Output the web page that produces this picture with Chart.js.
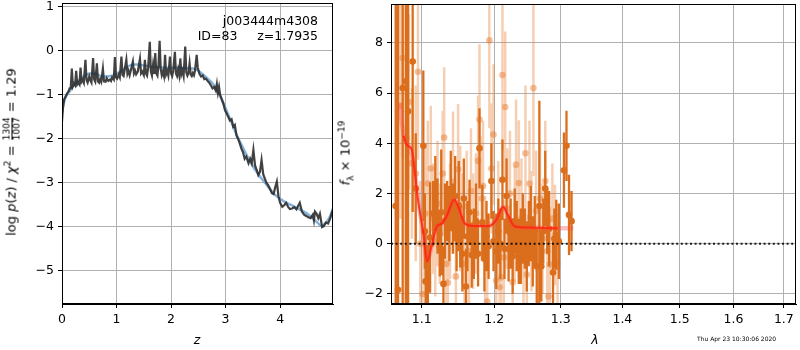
<!DOCTYPE html>
<html>
<head>
<meta charset="utf-8">
<script src="https://cdn.jsdelivr.net/npm/chart.js@4.4.1/dist/chart.umd.min.js"></script>
<style>
  body { margin: 0; background: #fff; }
  #wrap { position: relative; width: 800px; height: 350px; font-family: 'DejaVu Sans', sans-serif; color: #000; }
  canvas { position: absolute; top: 0; }
  .lbl { position: absolute; white-space: pre; font-size: 12.5px; line-height: 1; font-weight: normal; }
  .rot { transform: translate(-50%, -50%) rotate(-90deg); font-size: 13px; }
  .frac { display: inline-flex; flex-direction: column; vertical-align: middle; font-size: 9px; line-height: 1; text-align: center; margin: 0 1px; }
  .frac span + span { border-top: 1px solid #000; }
  sup, sub { font-size: 70%; line-height: 0; }
</style>
</head>
<body>
<div id="wrap">
  <canvas id="pzChart" width="340" height="350" style="left:0"></canvas>
  <canvas id="specChart" width="460" height="350" style="left:340px"></canvas>

  <div class="lbl rot" style="left:12px; top:152px;">log <i>p</i>(<i>z</i>) / <i>χ</i><sup>2</sup> = <span class="frac"><span>1304</span><span>1007</span></span> = 1.29</div>
  <div class="lbl rot" style="left:345px; top:153px;"><i>f</i><sub>λ</sub> × 10<sup>−19</sup></div>
  <div class="lbl" style="right:482px; top:13px; text-align:right; line-height:15px;">j003444m4308
ID=83     z=1.7935</div>
  <div class="lbl" style="left:197px; top:340px; transform:translate(-50%,-50%);"><i>z</i></div>
  <div class="lbl" style="left:595px; top:340px; transform:translate(-50%,-50%);"><i>λ</i></div>
  <div class="lbl" style="left:697px; top:336px; font-size:6px;">Thu Apr 23 10:30:06 2020</div>
</div>

<script>
// p(z) panel
const zGrid = [
  0.00,0.02,0.04,0.06,0.08,0.10,0.12,0.14,0.16,0.18,
  0.20,0.22,0.24,0.26,0.28,0.30,0.32,0.34,0.36,0.38,
  0.40,0.43,0.45,0.47,0.50,0.52,0.54,0.57,0.59,0.61,
  0.64,0.66,0.68,0.70,0.72,0.75,0.77,0.80,0.82,0.85,
  0.88,0.90,0.92,0.95,0.97,0.99,1.01,1.04,1.06,1.09,
  1.11,1.13,1.15,1.18,1.20,1.22,1.24,1.27,1.30,1.32,
  1.34,1.36,1.39,1.41,1.43,1.45,1.47,1.50,1.52,1.54,
  1.56,1.58,1.61,1.63,1.65,1.67,1.69,1.71,1.73,1.75,
  1.77,1.79,1.81,1.83,1.85,1.87,1.89,1.91,1.93,1.95,
  1.98,2.00,2.02,2.04,2.07,2.09,2.11,2.13,2.15,2.17,
  2.19,2.21,2.23,2.26,2.28,2.30,2.32,2.34,2.36,2.38,
  2.40,2.42,2.44,2.47,2.49,2.52,2.55,2.58,2.61,2.64,
  2.67,2.70,2.73,2.76,2.79,2.82,2.84,2.86,2.88,2.90,
  2.93,2.96,2.99,3.02,3.05,3.08,3.11,3.14,3.17,3.20,
  3.23,3.26,3.29,3.32,3.35,3.38,3.42,3.45,3.48,3.51,
  3.54,3.57,3.60,3.63,3.66,3.69,3.72,3.75,3.78,3.82,
  3.85,3.88,3.91,3.94,3.97,4.00,4.04,4.08,4.11,4.15,
  4.18,4.22,4.26,4.30,4.33,4.36,4.40,4.44,4.48,4.52,
  4.56,4.60,4.62,4.64,4.67,4.70,4.73,4.77,4.80,4.84,
  4.88,4.92,4.97
];
const logPz = [
  -1.60,-1.25,-1.10,-1.05,-1.00,-0.95,-0.92,-0.85,-0.85,-0.40,
  -0.80,-0.74,-0.78,-0.45,-0.76,-0.72,-0.76,-0.38,-0.70,-0.66,
  -0.72,-0.20,-0.66,-0.72,-0.58,-0.67,-0.72,-0.16,-0.65,-0.70,
  -0.28,-0.69,-0.72,-0.64,-0.70,-0.40,-0.69,-0.70,-0.62,-0.68,
  -0.65,-0.68,-0.60,-0.65,-0.14,-0.60,-0.63,-0.54,-0.60,-0.13,
  -0.54,-0.57,-0.42,-0.20,-0.52,-0.45,-0.55,-0.40,-0.24,-0.51,
  -0.45,-0.53,-0.47,-0.32,-0.18,-0.51,-0.47,-0.55,-0.20,-0.51,
  -0.56,-0.38,0.21,-0.47,-0.56,-0.32,-0.52,-0.05,-0.51,-0.56,
  -0.32,0.23,-0.40,-0.55,-0.47,-0.57,-0.09,-0.53,-0.46,-0.56,
  -0.13,-0.51,-0.57,-0.45,-0.02,-0.51,-0.57,-0.42,-0.55,-0.17,
  -0.53,-0.45,-0.57,0.10,-0.49,-0.56,-0.50,-0.28,-0.53,-0.57,
  -0.50,-0.55,-0.44,-0.09,-0.38,-0.52,-0.58,-0.56,-0.64,-0.63,
  -0.68,-0.72,-0.78,-0.85,-0.82,-0.90,-0.75,-0.95,-0.82,-1.00,
  -1.10,-1.20,-1.35,-1.42,-1.50,-1.58,-1.55,-1.72,-1.68,-1.92,
  -2.00,-2.10,-2.22,-2.30,-2.45,-2.40,-2.55,-2.45,-2.55,-2.25,
  -2.60,-2.70,-2.82,-2.75,-2.48,-2.80,-2.90,-3.00,-3.05,-3.15,
  -3.23,-3.25,-3.10,-2.97,-3.30,-3.45,-3.54,-3.50,-3.45,-3.55,
  -3.59,-3.58,-3.55,-3.60,-3.52,-3.45,-3.65,-3.72,-3.75,-3.78,
  -3.80,-3.72,-3.85,-3.65,-3.70,-3.80,-3.70,-4.00,-3.98,-3.90,
  -3.92,-3.80,-3.60
];
const zSmooth = [0.00,0.05,0.10,0.15,0.20,0.30,0.40,0.50,0.60,0.70,0.80,0.90,1.00,1.10,1.20,1.30,1.40,1.50,1.60,1.80,
  2.00,2.20,2.30,2.40,2.50,2.60,2.70,2.80,2.90,3.00,3.10,3.20,3.30,3.40,3.50,3.60,3.70,3.80,3.90,4.00,
  4.10,4.20,4.30,4.40,4.50,4.60,4.70,4.75,4.80,4.90,4.97];
const logPzSmooth = [-1.40,-1.10,-0.98,-0.90,-0.80,-0.68,-0.58,-0.51,-0.52,-0.56,-0.58,-0.57,-0.52,-0.44,-0.36,-0.31,-0.31,-0.33,-0.35,-0.37,
  -0.38,-0.38,-0.39,-0.40,-0.45,-0.55,-0.66,-0.80,-1.02,-1.30,-1.60,-1.90,-2.15,-2.40,-2.62,-2.80,-2.96,-3.12,-3.26,-3.36,
  -3.44,-3.50,-3.56,-3.63,-3.70,-3.80,-3.92,-3.98,-3.95,-3.80,-3.58];
const zTicks = [0, 1, 2, 3, 4];
const pzTicks = [-5, -4, -3, -2, -1, 0, 1];

// spectrum panel (flux in units of 1e-19)
const waveDark = [1.066,1.069,1.075,1.079,1.082,1.088,1.092,1.102,1.104,1.105,
  1.108,1.111,1.115,1.118,1.121,1.124,1.126,1.129,1.131,1.134,
  1.137,1.139,1.142,1.145,1.147,1.150,1.152,1.155,1.157,1.160,
  1.162,1.165,1.168,1.171,1.174,1.177,1.179,1.183,1.186,1.189,
  1.192,1.196,1.199,1.203,1.206,1.209,1.212,1.215,1.218,1.221,
  1.224,1.227,1.230,1.233,1.236,1.239,1.242,1.245,1.248,1.251,
  1.254,1.257,1.260,1.263,1.267,1.270,1.273,1.276,1.279,1.282,
  1.288,1.290,1.293,1.297,1.305,1.309,1.313,1.317];
const fluxDark = [1.5,-1.83,6.2,6.47,5.28,7.26,2.2,3.9,0.5,-1.5,
  -1.55,0.25,1.2,2.0,1.1,-0.1,1.25,-1.6,0.9,1.3,
  0.8,2.1,1.0,1.9,0.2,1.5,0.35,-0.4,1.8,-1.7,
  0.3,1.25,-0.45,0.0,0.9,-0.4,3.8,0.85,-0.6,0.3,
  -0.1,2.5,0.1,-0.3,0.5,0.0,2.55,-0.2,1.9,-0.2,
  0.4,-0.5,0.9,0.3,-0.3,-0.1,0.6,0.2,-0.5,0.4,
  0.8,-0.3,0.5,-0.9,1.5,-0.9,0.5,2.2,0.9,0.6,
  -1.15,0.2,0.35,0.1,2.93,3.9,1.15,0.9];
const errDark = [12,12,12,12,12,6,2.2,3.0,1.5,2.0,
  1.5,2.2,1.3,1.5,1.5,1.2,2.5,1.5,1.5,1.2,
  1.5,1.6,1.4,1.6,1.3,1.8,1.3,1.5,1.6,1.5,
  1.4,1.3,1.3,1.4,1.5,1.3,1.6,1.5,1.3,1.4,
  1.3,1.5,1.2,1.5,1.3,1.4,1.6,1.2,1.5,1.3,
  1.4,1.5,1.3,1.4,1.3,1.5,1.4,1.2,1.4,1.3,
  1.5,1.4,1.4,1.5,4.2,1.4,1.3,1.5,1.3,1.5,
  1.3,1.2,1.4,1.5,1.5,1.4,1.6,1.2];

const waveLight = [1.072,1.075,1.080,1.083,1.087,1.092,1.095,1.098,1.101,1.105,
  1.108,1.112,1.115,1.118,1.121,1.124,1.128,1.130,1.133,1.135,
  1.138,1.142,1.146,1.149,1.152,1.155,1.158,1.161,1.164,1.167,
  1.170,1.174,1.177,1.179,1.182,1.184,1.187,1.190,1.193,1.196,
  1.199,1.203,1.206,1.208,1.210,1.212,1.214,1.216,1.219,1.223,
  1.227,1.230,1.232,1.236,1.240,1.243,1.246,1.248,1.252,1.255,
  1.258,1.262,1.265,1.268,1.272,1.276,1.279,1.281,1.283,1.287,
  1.291,1.295];
const fluxLight = [5.5,7.4,4.2,5.65,3.2,2.8,6.85,0.0,-2.0,1.2,
  2.4,3.0,1.0,0.1,1.6,0.4,2.8,4.23,-0.8,-1.55,
  0.9,2.47,-1.3,2.97,1.4,0.6,-0.8,1.5,-0.3,2.1,
  0.5,1.2,3.3,4.95,1.8,2.3,-0.5,-2.3,8.1,3.0,
  4.35,-1.47,1.0,-1.73,-1.34,6.72,-0.55,5.45,1.4,2.0,
  -1.53,0.8,3.15,2.42,1.0,-0.4,3.6,-1.23,2.4,0.5,
  6.2,1.3,-0.9,1.8,0.2,2.5,-0.3,-2.1,-0.83,1.0,
  0.35,-0.8];
const errLight = [4.5,4.0,3.5,3.5,3.0,3.5,3.5,2.5,3.0,2.8,
  2.5,2.5,2.2,2.2,2.5,2.0,2.5,2.8,2.2,2.5,
  2.3,2.8,2.3,2.6,2.5,2.2,2.4,2.2,2.3,2.5,
  2.3,2.4,2.6,3.0,2.5,2.6,2.4,2.5,3.5,2.6,
  2.8,2.4,2.3,2.5,2.3,3.0,2.3,3.0,2.4,2.5,
  2.4,2.3,2.6,2.5,2.4,2.3,2.7,2.4,2.5,2.4,
  3.5,2.4,2.5,2.3,2.2,2.4,2.3,2.5,2.3,2.2,
  2.0,2.0];

const modelWave = [1.076,1.080,1.084,1.087,1.091,1.095,1.102,1.107,1.113,1.120,1.126,1.133,
  1.144,1.151,1.158,1.170,1.193,1.203,1.213,1.220,1.230,1.252,1.295];
const modelFlux = [4.3,3.95,3.86,3.73,2.8,1.75,0.43,-0.7,-0.1,0.69,0.79,1.08,
  1.75,1.35,0.82,0.71,0.71,0.95,1.46,1.15,0.69,0.65,0.62];
const modelWaveWide = [1.071,1.074,1.078,1.084,1.091,1.095,1.102,1.107,1.113,1.120,1.126,1.133,
  1.144,1.151,1.158,1.170,1.193,1.203,1.213,1.220,1.230,1.252,1.292,1.320];
const modelFluxWide = [5.6,4.8,4.1,3.86,2.8,1.75,0.43,-0.7,-0.1,0.69,0.79,1.08,
  1.75,1.35,0.82,0.71,0.71,0.95,1.46,1.15,0.69,0.65,0.62,0.62];
const waveTicks = [1.1, 1.2, 1.3, 1.4, 1.5, 1.6, 1.7];
const fluxTicks = [-2, 0, 2, 4, 6, 8];

Chart.defaults.font.family = "'DejaVu Sans', sans-serif";
Chart.defaults.font.size = 12.5;
Chart.defaults.color = '#000';

const DARK = 'rgb(219,110,28)';
const LIGHT_BAR = 'rgba(232,130,55,0.38)';
const LIGHT_PT = 'rgba(232,130,55,0.5)';

function pairs(xs, ys) {
  return xs.map((x, i) => ({ x: x, y: ys[i] }));
}

function errorSegments(w, f, e) {
  const pts = [];
  w.forEach((x, i) => {
    pts.push({ x: x, y: f[i] - e[i] }, { x: x, y: f[i] + e[i] }, { x: x, y: null });
  });
  return pts;
}

const minus = v => String(v).replace('-', '\u2212');

const framePlugin = {
  id: 'frame',
  afterDraw(chart) {
    const a = chart.chartArea;
    const ctx = chart.ctx;
    ctx.save();
    ctx.strokeStyle = '#000';
    ctx.lineWidth = 1;
    ctx.strokeRect(a.left + 0.5, a.top + 0.5, a.right - a.left - 1, a.bottom - a.top - 1);
    ctx.restore();
  }
};

// fixed axis box sizes so the plot areas land where the original ones are
function axisStyle(ticks, width, height) {
  return {
    grid: { color: '#b0b0b0', lineWidth: 1, tickColor: '#000', tickLength: 4 },
    border: { color: '#000', width: 1 },
    ticks: { padding: 4, autoSkip: false, maxRotation: 0, callback: v => minus(v) },
    afterBuildTicks: sc => { sc.ticks = ticks.map(v => ({ value: v })); },
    afterFit: sc => {
      if (width) sc.width = width;
      if (height) sc.height = height;
      sc.paddingTop = 0;
      sc.paddingBottom = 0;
      sc.paddingLeft = 0;
      sc.paddingRight = 0;
    }
  };
}

// left panel: p(z)
const pzX = axisStyle(zTicks, null, 46);
const pzY = axisStyle(pzTicks, 62, null);
new Chart(document.getElementById('pzChart'), {
  type: 'line',
  data: {
    datasets: [
      {
        data: pairs(zGrid, logPz),
        borderColor: 'rgba(45,45,45,0.9)',
        borderWidth: 2.2,
        pointRadius: 0,
        order: 0
      },
      {
        data: pairs(zSmooth, logPzSmooth),
        borderColor: 'rgba(110,165,210,0.85)',
        borderWidth: 2.5,
        pointRadius: 0,
        cubicInterpolationMode: 'monotone',
        order: 1
      }
    ]
  },
  options: {
    responsive: false,
    animation: false,
    devicePixelRatio: 1,
    layout: { padding: { top: 3, right: 7, left: 0, bottom: 0 } },
    plugins: { legend: { display: false }, tooltip: { enabled: false } },
    scales: {
      x: Object.assign({ type: 'linear', min: 0, max: 4.97 }, pzX),
      y: Object.assign({ type: 'linear', min: -5.75, max: 1.09 }, pzY)
    }
  },
  plugins: [framePlugin]
});

// right panel: spectrum
const specX = axisStyle(waveTicks, null, 46);
specX.ticks.callback = v => Number(v).toFixed(1);
const specY = axisStyle(fluxTicks, 51, null);
new Chart(document.getElementById('specChart'), {
  type: 'line',
  data: {
    datasets: [
      {
        data: [{ x: 1.06, y: 0 }, { x: 1.725, y: 0 }],
        borderColor: 'rgba(0,0,0,0.85)',
        borderWidth: 2,
        borderDash: [2, 2.6],
        pointRadius: 0,
        order: 0
      },
      {
        data: pairs(modelWave, modelFlux),
        borderColor: 'rgba(255,35,10,0.85)',
        borderWidth: 2,
        pointRadius: 0,
        cubicInterpolationMode: 'monotone',
        order: 1
      },
      {
        data: pairs(modelWaveWide, modelFluxWide),
        borderColor: 'rgba(255,70,70,0.35)',
        borderWidth: 4.5,
        pointRadius: 0,
        cubicInterpolationMode: 'monotone',
        order: 2
      },
      {
        data: pairs(waveDark, fluxDark),
        showLine: false,
        pointRadius: 3.3,
        pointBackgroundColor: DARK,
        pointBorderWidth: 0,
        order: 3
      },
      {
        data: errorSegments(waveDark, fluxDark, errDark),
        borderColor: DARK,
        borderWidth: 2.3,
        pointRadius: 0,
        spanGaps: false,
        order: 4
      },
      {
        data: pairs(waveLight, fluxLight),
        showLine: false,
        pointRadius: 3.3,
        pointBackgroundColor: LIGHT_PT,
        pointBorderWidth: 0,
        order: 5
      },
      {
        data: errorSegments(waveLight, fluxLight, errLight),
        borderColor: LIGHT_BAR,
        borderWidth: 2.5,
        pointRadius: 0,
        spanGaps: false,
        order: 6
      }
    ]
  },
  options: {
    responsive: false,
    animation: false,
    devicePixelRatio: 1,
    layout: { padding: { top: 3, right: 2, left: 0, bottom: 0 } },
    plugins: { legend: { display: false }, tooltip: { enabled: false } },
    scales: {
      x: Object.assign({ type: 'logarithmic', min: 1.06, max: 1.725 }, specX),
      y: Object.assign({ type: 'linear', min: -2.4, max: 9.55 }, specY)
    }
  },
  plugins: [framePlugin]
});
</script>
</body>
</html>
